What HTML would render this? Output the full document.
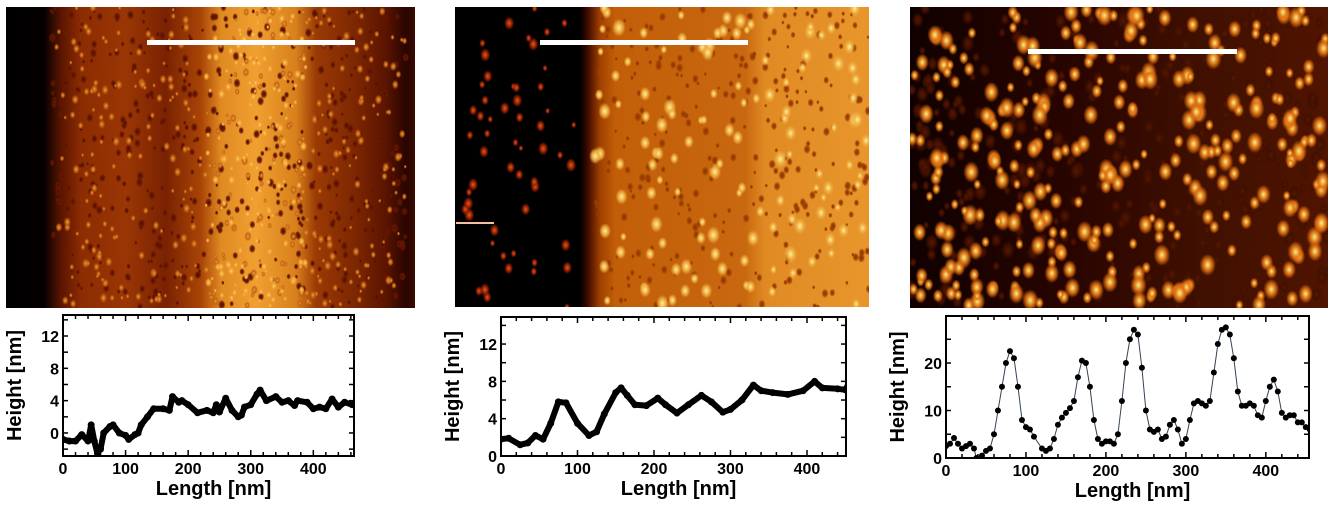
<!DOCTYPE html>
<html><head><meta charset="utf-8">
<style>
html,body{margin:0;padding:0;background:#fff;width:1335px;height:505px;overflow:hidden}
.img{position:absolute;overflow:hidden}
svg text{font-family:"Liberation Sans",Arial,sans-serif;font-weight:bold;fill:#000}
</style></head><body>
<div class="img" style="left:6px;top:7px;width:409px;height:301px;background:linear-gradient(90deg,#000 0,#050000 38px,#5a1500 55px,#8c2c02 75px,#9a3604 120px,#7a2202 160px,#a84406 195px,#e08a22 215px,#f0a030 250px,#d8801c 290px,#9a3a04 310px,#7c2602 350px,#5a1400 380px,#2a0500 400px,#3a0a00 409px)"><svg id="t1" width="409" height="301"></svg></div>
<div class="img" style="left:455px;top:7px;width:414px;height:300px;background:linear-gradient(90deg,#000 0,#000 125px,#3a0800 132px,#a04000 145px,#c25e08 160px,#c86810 290px,#e08a24 310px,#e8962c 414px)"><svg id="t2" width="414" height="300"></svg></div>
<div class="img" style="left:910px;top:7px;width:418px;height:301px;background:linear-gradient(90deg,#100100,#2a0500 40%,#401000 70%,#501400)"><svg id="t3" width="418" height="301"></svg></div>
<div style="position:absolute;left:147px;top:40px;width:208px;height:5px;background:#fff"></div>
<div style="position:absolute;left:540px;top:40px;width:208px;height:5px;background:#fff"></div>
<div style="position:absolute;left:1028px;top:49px;width:209px;height:5px;background:#fff"></div>
<div style="position:absolute;left:456px;top:222px;width:38px;height:2px;background:#f4c0a0"></div>
<svg id="charts" width="1335" height="505" style="position:absolute;left:0;top:0"></svg>
<script>
// ---- Chart data ----
const x1=[0,10,20,30,40,45,50,55,60,65,75,80,90,100,105,115,120,125,135,145,160,170,175,185,190,200,215,230,240,245,250,260,270,280,285,290,300,310,315,325,340,350,360,370,375,390,400,410,420,430,440,450,462];
const y1=[-0.8,-1,-1,-0.2,-1,1,-1,-2.5,-2,0,0.8,1,0,-0.3,-0.8,-0.2,0,1,2,3,3,2.8,4.5,3.8,4,3.5,2.5,2.8,2.5,3.5,2.6,4.3,2.8,2,2.2,3.2,3.5,4.8,5.3,4,4.5,3.8,4,3.4,4,3.8,3,3.2,3,4.2,3.2,3.8,3.5];
const x2=[0,10,25,35,45,55,65,75,85,100,115,125,135,150,157,165,175,190,205,215,230,245,262,275,290,300,315,330,340,355,375,395,410,420,440,450,455];
const y2=[1.8,1.9,1.2,1.4,2.2,1.8,3.5,5.8,5.7,3.5,2.2,2.6,4.5,6.8,7.3,6.5,5.5,5.4,6.2,5.5,4.6,5.5,6.5,5.8,4.7,5.0,6.0,7.6,7.0,6.8,6.6,7.0,8.0,7.3,7.2,7.1,7.8];
const x3=[0,5,10,15,20,25,30,35,38,45,50,55,60,65,70,75,80,85,90,95,100,105,110,120,125,130,135,140,145,150,155,160,165,170,175,180,185,190,195,200,205,210,215,220,225,230,235,240,245,250,255,260,265,270,275,280,285,290,295,300,305,310,315,320,325,330,335,340,345,350,355,360,365,370,375,380,385,390,395,400,405,410,415,420,425,430,435,440,445,450,455];
const y3=[2.5,3,4.2,3,2,2.5,3,2,0,0.5,1.5,2,5,10,15,20,22.5,21,15,8,6.5,6,4.5,2,1.5,2,4,7,8.5,9.5,10.5,12,17,20.5,20,15,8,4,3,3.5,3.5,3,5,12,20,25,27,26,19,10,6,5.5,6,4,4.5,7,8,6,3,4,8,11.5,12,11.5,11,12,18,24,27,27.5,26,21,14,11,11,11.5,11,9,8.5,12,15,16.5,14,9.5,8.5,9,9,7.5,7.5,6.5,6];
const xTicks=[0,100,200,300,400];
const yTicks1=[0,4,8,12], yTicks2=[0,4,8,12], yTicks3=[0,10,20];

const NS='http://www.w3.org/2000/svg';
const svg=document.getElementById('charts');
function mk(tag,attrs,parent){const e=document.createElementNS(NS,tag);for(const k in attrs)e.setAttribute(k,attrs[k]);(parent||svg).appendChild(e);return e;}

function chart(id,L,R,T,B,xmax,ymin,ymax,xs,ys,yt,yMinorStep,style){
  const g=mk('g',{});
  
  
  const sx=v=>L+(v/xmax)*(R-L);
  const sy=v=>B-(v-ymin)/(ymax-ymin)*(B-T);
  for(let v=0;v<=xmax;v+=20){const X=sx(v);const len=v%100===0?6:4;
    mk('line',{x1:X,y1:B,x2:X,y2:B-len,stroke:'#000','stroke-width':1.5},g);
    mk('line',{x1:X,y1:T,x2:X,y2:T+len,stroke:'#000','stroke-width':1.5},g);}
  for(let v=Math.ceil(ymin/yMinorStep)*yMinorStep;v<=ymax;v+=yMinorStep){const Y=sy(v);
    mk('line',{x1:L,y1:Y,x2:L+5,y2:Y,stroke:'#000','stroke-width':1.5},g);
    mk('line',{x1:R,y1:Y,x2:R-5,y2:Y,stroke:'#000','stroke-width':1.5},g);}
  xTicks.forEach(v=>{const t=mk('text',{x:sx(v),y:B+18,'text-anchor':'middle','font-size':16},g);t.textContent=v;
    });
  yt.forEach(v=>{const t=mk('text',{x:L-4,y:sy(v)+6,'text-anchor':'end','font-size':16},g);t.textContent=v;
    });
  const xl=mk('text',{x:(L+R)/2+5,y:B+39,'text-anchor':'middle','font-size':20},g);xl.textContent='Length [nm]';
  
  const yl=mk('text',{x:0,y:0,'text-anchor':'middle','font-size':20,transform:`translate(${L-42},${(T+B)/2}) rotate(-90)`},g);yl.textContent='Height [nm]';
  
  const cp=mk('clipPath',{id:'cp'+id},g);mk('rect',{x:L,y:T,width:R-L,height:B-T},cp);
  const pts=xs.map((x,i)=>sx(x).toFixed(1)+','+sy(ys[i]).toFixed(1)).join(' ');
  const cg=mk('g',{'clip-path':`url(#cp${id})`},g);
  if(style==='thick'){
    const pl=mk('polyline',{points:pts,fill:'none',stroke:'#000','stroke-width':6,'stroke-linejoin':'round','stroke-linecap':'round'},cg);
    
    xs.forEach((x,i)=>{const c=mk('circle',{cx:sx(x),cy:sy(ys[i]),r:3.5,fill:'#000'},cg);
      });
  } else {
    const pl=mk('polyline',{points:pts,fill:'none',stroke:'#345','stroke-width':1},cg);
    
    xs.forEach((x,i)=>{const c=mk('circle',{cx:sx(x),cy:sy(ys[i]),r:3,fill:'#000'},cg);
      });
  }
  const fr=mk('rect',{x:L,y:T,width:R-L,height:B-T,fill:'none',stroke:'#000','stroke-width':2},g);
  
}
chart(1,63,354,315,456,465,-2.85,14.6,x1,y1,yTicks1,2,'thick');
chart(2,501,846,317,456,451,0,14.9,x2,y2,yTicks2,2,'thick');
chart(3,946,1309,316,458,454,0,29.9,x3,y3,yTicks3,5,'dots');

// ---- decorative AFM texture ----
let s=12345;function rnd(){s=(s*1103515245+12345)%2147483648;return s/2147483648;}
let gc=0;
function tex(id,n,xr,col,rmin,rmax){
  const el=document.getElementById(id);
  const defs=document.createElementNS(NS,'defs');el.appendChild(defs);
  const gid='g'+id+'_'+(gc++);
  const rg=document.createElementNS(NS,'radialGradient');rg.setAttribute('id',gid);
  [['0%',col[0],1],['55%',col[1],0.9],['100%',col[1],0]].forEach(a=>{const st=document.createElementNS(NS,'stop');st.setAttribute('offset',a[0]);st.setAttribute('stop-color',a[1]);st.setAttribute('stop-opacity',a[2]);rg.appendChild(st);});
  defs.appendChild(rg);
  for(let i=0;i<n;i++){const x=xr[0]+rnd()*(xr[1]-xr[0]);const y=rnd()*301;
    const r=rmin+rnd()*(rmax-rmin);
    const e=document.createElementNS(NS,'ellipse');e.setAttribute('cx',x);e.setAttribute('cy',y);e.setAttribute('rx',r*0.75);e.setAttribute('ry',r);e.setAttribute('fill',`url(#${gid})`);
    el.appendChild(e);}
}
tex('t1',500,[45,400],['#4a0e00','#6a1800'],2,5);
tex('t1',400,[50,400],['#f0a040','#c06010'],2,5);
tex('t1',150,[200,300],['#ffd070','#f0a030'],2,5);
tex('t2',55,[10,125],['#e06020','#a02000'],3,7);
tex('t2',300,[140,414],['#8a3000','#a04000'],2,5);
tex('t2',130,[140,414],['#fff0a0','#f0b040'],4,9);
tex('t3',300,[0,418],['#5a1600','#401000'],4,9);
tex('t3',320,[0,418],['#fff080','#e07010'],5,11);
</script>
</body></html>
